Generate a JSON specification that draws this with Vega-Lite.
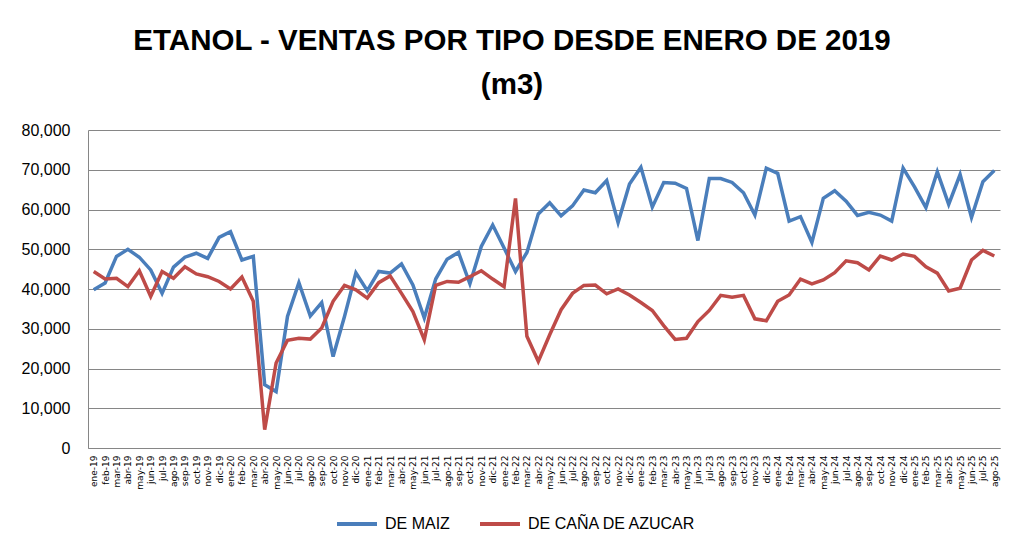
{
  "$schema": "https://vega.github.io/schema/vega-lite/v6.json",
  "width": 912,
  "height": 318,
  "autosize": {"type": "none"},
  "padding": {"left": 88, "top": 130, "right": 23, "bottom": 107},
  "background": "white",
  "title": {
    "text": ["ETANOL - VENTAS POR TIPO DESDE ENERO DE 2019", "(m3)"],
    "font": "Liberation Sans",
    "fontSize": 29.5,
    "fontWeight": "bold",
    "color": "black",
    "anchor": "middle",
    "frame": "group",
    "dx": -32,
    "offset": 22,
    "lineHeight": 44
  },
  "data": {
    "values": [
      {"mes": "ene-19", "DE MAIZ": 39800, "DE CAÑA DE AZUCAR": 44400},
      {"mes": "feb-19", "DE MAIZ": 41500, "DE CAÑA DE AZUCAR": 42500},
      {"mes": "mar-19", "DE MAIZ": 48200, "DE CAÑA DE AZUCAR": 42700},
      {"mes": "abr-19", "DE MAIZ": 50000, "DE CAÑA DE AZUCAR": 40600},
      {"mes": "may-19", "DE MAIZ": 48000, "DE CAÑA DE AZUCAR": 44600},
      {"mes": "jun-19", "DE MAIZ": 44800, "DE CAÑA DE AZUCAR": 38100},
      {"mes": "jul-19", "DE MAIZ": 38900, "DE CAÑA DE AZUCAR": 44400},
      {"mes": "ago-19", "DE MAIZ": 45500, "DE CAÑA DE AZUCAR": 42700},
      {"mes": "sep-19", "DE MAIZ": 48000, "DE CAÑA DE AZUCAR": 45600},
      {"mes": "oct-19", "DE MAIZ": 49000, "DE CAÑA DE AZUCAR": 43800},
      {"mes": "nov-19", "DE MAIZ": 47700, "DE CAÑA DE AZUCAR": 43100},
      {"mes": "dic-19", "DE MAIZ": 53000, "DE CAÑA DE AZUCAR": 41900},
      {"mes": "ene-20", "DE MAIZ": 54400, "DE CAÑA DE AZUCAR": 40000},
      {"mes": "feb-20", "DE MAIZ": 47300, "DE CAÑA DE AZUCAR": 43000},
      {"mes": "mar-20", "DE MAIZ": 48200, "DE CAÑA DE AZUCAR": 36900},
      {"mes": "abr-20", "DE MAIZ": 15900, "DE CAÑA DE AZUCAR": 4600},
      {"mes": "may-20", "DE MAIZ": 14200, "DE CAÑA DE AZUCAR": 21400},
      {"mes": "jun-20", "DE MAIZ": 33100, "DE CAÑA DE AZUCAR": 27100},
      {"mes": "jul-20", "DE MAIZ": 41600, "DE CAÑA DE AZUCAR": 27600},
      {"mes": "ago-20", "DE MAIZ": 33200, "DE CAÑA DE AZUCAR": 27400},
      {"mes": "sep-20", "DE MAIZ": 36600, "DE CAÑA DE AZUCAR": 30200},
      {"mes": "oct-20", "DE MAIZ": 23000, "DE CAÑA DE AZUCAR": 36900},
      {"mes": "nov-20", "DE MAIZ": 33100, "DE CAÑA DE AZUCAR": 40900},
      {"mes": "dic-20", "DE MAIZ": 44100, "DE CAÑA DE AZUCAR": 39800},
      {"mes": "ene-21", "DE MAIZ": 39600, "DE CAÑA DE AZUCAR": 37700},
      {"mes": "feb-21", "DE MAIZ": 44400, "DE CAÑA DE AZUCAR": 41600},
      {"mes": "mar-21", "DE MAIZ": 44000, "DE CAÑA DE AZUCAR": 43300},
      {"mes": "abr-21", "DE MAIZ": 46300, "DE CAÑA DE AZUCAR": 38900},
      {"mes": "may-21", "DE MAIZ": 41000, "DE CAÑA DE AZUCAR": 34300},
      {"mes": "jun-21", "DE MAIZ": 32700, "DE CAÑA DE AZUCAR": 27200},
      {"mes": "jul-21", "DE MAIZ": 42500, "DE CAÑA DE AZUCAR": 40900},
      {"mes": "ago-21", "DE MAIZ": 47500, "DE CAÑA DE AZUCAR": 41900},
      {"mes": "sep-21", "DE MAIZ": 49200, "DE CAÑA DE AZUCAR": 41700},
      {"mes": "oct-21", "DE MAIZ": 41300, "DE CAÑA DE AZUCAR": 43100},
      {"mes": "nov-21", "DE MAIZ": 50700, "DE CAÑA DE AZUCAR": 44600},
      {"mes": "dic-21", "DE MAIZ": 56100, "DE CAÑA DE AZUCAR": 42500},
      {"mes": "ene-22", "DE MAIZ": 50300, "DE CAÑA DE AZUCAR": 40600},
      {"mes": "feb-22", "DE MAIZ": 44400, "DE CAÑA DE AZUCAR": 62800},
      {"mes": "mar-22", "DE MAIZ": 49200, "DE CAÑA DE AZUCAR": 28100},
      {"mes": "abr-22", "DE MAIZ": 58900, "DE CAÑA DE AZUCAR": 21800},
      {"mes": "may-22", "DE MAIZ": 61700, "DE CAÑA DE AZUCAR": 28500},
      {"mes": "jun-22", "DE MAIZ": 58400, "DE CAÑA DE AZUCAR": 34800},
      {"mes": "jul-22", "DE MAIZ": 60900, "DE CAÑA DE AZUCAR": 38900},
      {"mes": "ago-22", "DE MAIZ": 64900, "DE CAÑA DE AZUCAR": 40900},
      {"mes": "sep-22", "DE MAIZ": 64200, "DE CAÑA DE AZUCAR": 41000},
      {"mes": "oct-22", "DE MAIZ": 67300, "DE CAÑA DE AZUCAR": 38800},
      {"mes": "nov-22", "DE MAIZ": 56700, "DE CAÑA DE AZUCAR": 40000},
      {"mes": "dic-22", "DE MAIZ": 66400, "DE CAÑA DE AZUCAR": 38500},
      {"mes": "ene-23", "DE MAIZ": 70600, "DE CAÑA DE AZUCAR": 36600},
      {"mes": "feb-23", "DE MAIZ": 60600, "DE CAÑA DE AZUCAR": 34600},
      {"mes": "mar-23", "DE MAIZ": 66800, "DE CAÑA DE AZUCAR": 30800},
      {"mes": "abr-23", "DE MAIZ": 66600, "DE CAÑA DE AZUCAR": 27300},
      {"mes": "may-23", "DE MAIZ": 65300, "DE CAÑA DE AZUCAR": 27600},
      {"mes": "jun-23", "DE MAIZ": 52200, "DE CAÑA DE AZUCAR": 31800},
      {"mes": "jul-23", "DE MAIZ": 67800, "DE CAÑA DE AZUCAR": 34600},
      {"mes": "ago-23", "DE MAIZ": 67800, "DE CAÑA DE AZUCAR": 38400},
      {"mes": "sep-23", "DE MAIZ": 66800, "DE CAÑA DE AZUCAR": 37900},
      {"mes": "oct-23", "DE MAIZ": 64200, "DE CAÑA DE AZUCAR": 38400},
      {"mes": "nov-23", "DE MAIZ": 58600, "DE CAÑA DE AZUCAR": 32500},
      {"mes": "dic-23", "DE MAIZ": 70400, "DE CAÑA DE AZUCAR": 32000},
      {"mes": "ene-24", "DE MAIZ": 69100, "DE CAÑA DE AZUCAR": 36900},
      {"mes": "feb-24", "DE MAIZ": 57100, "DE CAÑA DE AZUCAR": 38500},
      {"mes": "mar-24", "DE MAIZ": 58200, "DE CAÑA DE AZUCAR": 42500},
      {"mes": "abr-24", "DE MAIZ": 51700, "DE CAÑA DE AZUCAR": 41300},
      {"mes": "may-24", "DE MAIZ": 62800, "DE CAÑA DE AZUCAR": 42300},
      {"mes": "jun-24", "DE MAIZ": 64700, "DE CAÑA DE AZUCAR": 44100},
      {"mes": "jul-24", "DE MAIZ": 62100, "DE CAÑA DE AZUCAR": 47100},
      {"mes": "ago-24", "DE MAIZ": 58500, "DE CAÑA DE AZUCAR": 46600},
      {"mes": "sep-24", "DE MAIZ": 59300, "DE CAÑA DE AZUCAR": 44800},
      {"mes": "oct-24", "DE MAIZ": 58600, "DE CAÑA DE AZUCAR": 48300},
      {"mes": "nov-24", "DE MAIZ": 57100, "DE CAÑA DE AZUCAR": 47300},
      {"mes": "dic-24", "DE MAIZ": 70400, "DE CAÑA DE AZUCAR": 48800},
      {"mes": "ene-25", "DE MAIZ": 65700, "DE CAÑA DE AZUCAR": 48200},
      {"mes": "feb-25", "DE MAIZ": 60500, "DE CAÑA DE AZUCAR": 45600},
      {"mes": "mar-25", "DE MAIZ": 69500, "DE CAÑA DE AZUCAR": 44000},
      {"mes": "abr-25", "DE MAIZ": 61300, "DE CAÑA DE AZUCAR": 39500},
      {"mes": "may-25", "DE MAIZ": 68800, "DE CAÑA DE AZUCAR": 40200},
      {"mes": "jun-25", "DE MAIZ": 58000, "DE CAÑA DE AZUCAR": 47300},
      {"mes": "jul-25", "DE MAIZ": 67000, "DE CAÑA DE AZUCAR": 49700},
      {"mes": "ago-25", "DE MAIZ": 69800, "DE CAÑA DE AZUCAR": 48300}
    ]
  },
  "transform": [{"fold": ["DE MAIZ", "DE CAÑA DE AZUCAR"], "as": ["serie", "valor"]}],
  "mark": {"type": "line", "strokeWidth": 3.5},
  "encoding": {
    "x": {
      "field": "mes",
      "type": "ordinal",
      "sort": null,
      "scale": {"type": "point", "padding": 0.5},
      "axis": {
        "title": null,
        "labelAngle": 270,
        "labelFont": "DejaVu Sans",
        "labelFontSize": 9,
        "labelColor": "black",
        "ticks": false,
        "grid": false,
        "domainColor": "#868686",
        "labelPadding": 7
      }
    },
    "y": {
      "field": "valor",
      "type": "quantitative",
      "scale": {"domain": [0, 80000]},
      "axis": {
        "title": null,
        "values": [0, 10000, 20000, 30000, 40000, 50000, 60000, 70000, 80000],
        "format": ",d",
        "labelFont": "Liberation Sans",
        "labelFontSize": 16,
        "labelColor": "black",
        "ticks": false,
        "labelPadding": 18,
        "gridColor": "#868686",
        "domainColor": "#868686"
      }
    },
    "color": {
      "field": "serie",
      "type": "nominal",
      "scale": {"domain": ["DE MAIZ", "DE CAÑA DE AZUCAR"], "range": ["#4A7EBB", "#BE4B48"]},
      "legend": {
        "title": null,
        "orient": "none",
        "legendX": 247,
        "legendY": 372,
        "direction": "horizontal",
        "symbolType": "stroke",
        "symbolSize": 1600,
        "symbolStrokeWidth": 4,
        "labelFont": "Liberation Sans",
        "labelFontSize": 16,
        "labelColor": "black",
        "labelLimit": 0,
        "columnPadding": 22,
        "labelOffset": 6
      }
    }
  },
  "config": {"view": {"stroke": null}}
}
